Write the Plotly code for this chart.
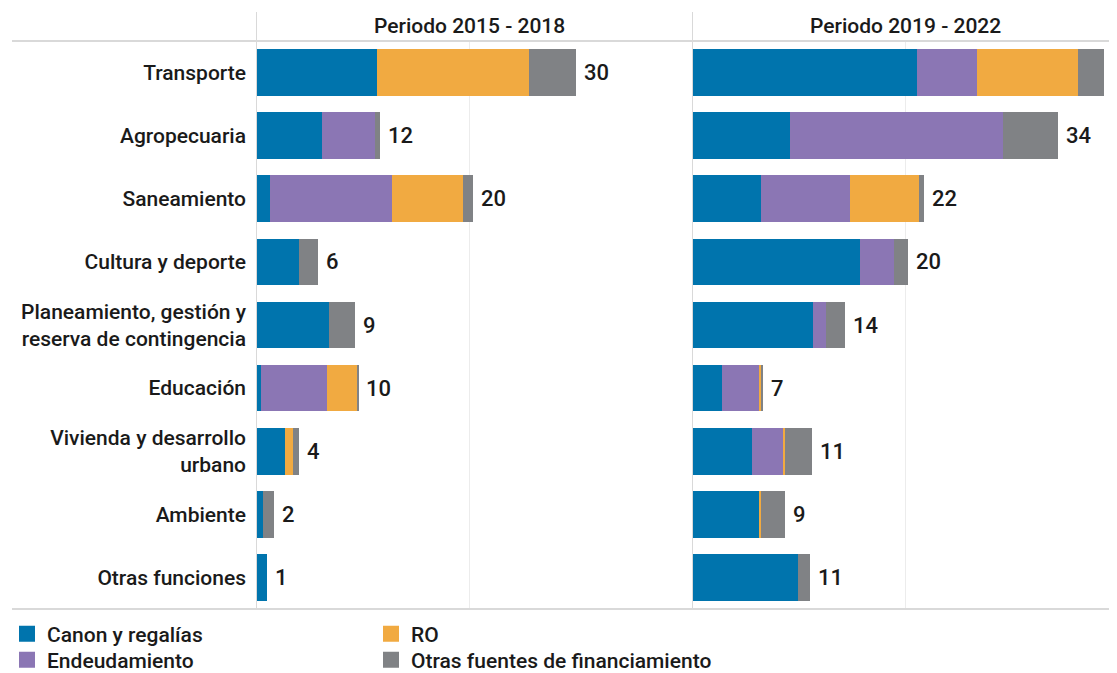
import plotly.graph_objects as go

categories = [
    "Transporte",
    "Agropecuaria",
    "Saneamiento",
    "Cultura y deporte",
    "Planeamiento, gestión y<br>reserva de contingencia",
    "Educación",
    "Vivienda y desarrollo<br>urbano",
    "Ambiente",
    "Otras funciones",
]

series_names = ["Canon y regalías", "Endeudamiento", "RO", "Otras fuentes de financiamiento"]
colors = ["#0074AD", "#8B76B4", "#F1AA41", "#808285"]

# Periodo 2015 - 2018
canon_1518 = [11.4, 6.2, 1.3, 4.0, 6.9, 0.5, 2.7, 0.7, 1.0]
endeud_1518 = [0, 5.0, 11.5, 0, 0, 6.2, 0, 0, 0]
ro_1518 = [14.2, 0, 6.6, 0, 0, 2.8, 0.8, 0, 0]
otras_1518 = [4.4, 0.4, 1.0, 1.8, 2.4, 0.1, 0.5, 1.0, 0]
totals_1518 = [30, 12, 20, 6, 9, 10, 4, 2, 1]

# Periodo 2019 - 2022
canon_1922 = [21.1, 9.2, 6.5, 15.7, 11.3, 2.8, 5.6, 6.3, 9.9]
endeud_1922 = [5.6, 19.9, 8.3, 3.2, 1.3, 3.5, 3.0, 0, 0]
ro_1922 = [9.5, 0, 6.5, 0, 0, 0.25, 0.15, 0.15, 0]
otras_1922 = [2.4, 5.2, 0.4, 1.3, 1.7, 0.1, 2.5, 2.3, 1.2]
totals_1922 = [39, 34, 22, 20, 14, 7, 11, 9, 11]

panel_titles = ["Periodo 2015 - 2018", "Periodo 2019 - 2022"]

FONT = "Roboto"
TXT = "#1a1a1a"
W, H = 1109, 665          # page body adds an 8px offset
T_PX, B_PX = 33, 64
plot_h = H - T_PX - B_PX
plot_bottom = H - B_PX

fig = go.Figure()

left = [canon_1518, endeud_1518, ro_1518, otras_1518]
right = [canon_1922, endeud_1922, ro_1922, otras_1922]

for i, name in enumerate(series_names):
    fig.add_trace(go.Bar(
        name=name, y=categories, x=left[i], orientation="h",
        marker=dict(color=colors[i], line=dict(width=0)),
        xaxis="x", yaxis="y", showlegend=False, hoverinfo="x+y+name",
    ))
for i, name in enumerate(series_names):
    fig.add_trace(go.Bar(
        name=name, y=categories, x=right[i], orientation="h",
        marker=dict(color=colors[i], line=dict(width=0)),
        xaxis="x2", yaxis="y", showlegend=False, hoverinfo="x+y+name",
    ))

# legend entries (larger square swatches), one small legend per slot
legend_slot = ["legend", "legend3", "legend2", "legend4"]
for i, name in enumerate(series_names):
    fig.add_trace(go.Scatter(
        name=name, x=[None], y=[None], mode="markers",
        marker=dict(symbol="square", size=16, color=colors[i]),
        xaxis="x", yaxis="y", showlegend=True, legend=legend_slot[i],
        hoverinfo="skip",
    ))

annotations = []
for vals, totals, xref in ((left, totals_1518, "x"), (right, totals_1922, "x2")):
    for j, cat in enumerate(categories):
        s = sum(v[j] for v in vals)
        annotations.append(dict(
            x=s, y=cat, xref=xref, yref="y", text=str(totals[j]),
            showarrow=False, xanchor="left", xshift=6,
            font=dict(family=FONT, size=22, color=TXT, weight=500),
        ))

title_y = 1 + (T_PX - 18) / plot_h
for t, xref in zip(panel_titles, ("x", "x2")):
    annotations.append(dict(
        x=20, y=title_y, xref=xref, yref="paper", text=t, showarrow=False,
        xanchor="center", yanchor="middle",
        font=dict(family=FONT, size=21, color=TXT, weight=500),
    ))

top_line = 1 + (T_PX - 4) / plot_h
line_col = "#d9d9d9"
shapes = [
    dict(type="line", xref="paper", yref="paper", x0=4 / W, x1=1, y0=1, y1=1,
         line=dict(color=line_col, width=2)),
    dict(type="line", xref="paper", yref="paper", x0=4 / W, x1=1, y0=0, y1=0,
         line=dict(color=line_col, width=2)),
    dict(type="line", xref="x", yref="paper", x0=0, x1=0, y0=0, y1=top_line,
         line=dict(color=line_col, width=2)),
    dict(type="line", xref="x2", yref="paper", x0=0, x1=0, y0=0, y1=top_line,
         line=dict(color=line_col, width=2)),
]

d1 = [248 / W, 674 / W]
d2 = [684 / W, 1.0]
r2 = (W - 684) / 10.67

row1 = (plot_bottom - 626) / plot_h
row2 = (plot_bottom - 652) / plot_h
col1 = -1 / W
col2 = 363 / W


def leg(x, y):
    return dict(x=x, y=y, xanchor="left", yanchor="middle", orientation="v",
                itemsizing="trace", font=dict(family=FONT, size=21, color=TXT, weight=500),
                bgcolor="rgba(0,0,0,0)", itemclick=False, itemdoubleclick=False)


fig.update_layout(
    width=W, height=H,
    margin=dict(l=0, r=0, t=T_PX, b=B_PX, pad=0, autoexpand=False),
    paper_bgcolor="white", plot_bgcolor="white",
    barmode="stack", bargap=0.26,
    font=dict(family=FONT, size=21, color=TXT),
    xaxis=dict(domain=d1, range=[0, 40], showticklabels=False, showgrid=True,
               gridcolor="#ececec", gridwidth=1, dtick=20, zeroline=False,
               showline=False, fixedrange=True),
    xaxis2=dict(domain=d2, range=[0, r2], showticklabels=False, showgrid=True,
                gridcolor="#ececec", gridwidth=1, dtick=20, zeroline=False,
                showline=False, fixedrange=True),
    yaxis=dict(type="category", categoryorder="array", categoryarray=categories,
               autorange="reversed", showgrid=False, zeroline=False, showline=False,
               ticks="", ticklabelstandoff=9,
               tickfont=dict(family=FONT, size=21, color=TXT, weight=500),
               fixedrange=True),
    legend=leg(col1, row1),
    legend2=leg(col2, row1),
    legend3=leg(col1, row2),
    legend4=leg(col2, row2),
    annotations=annotations,
    shapes=shapes,
    showlegend=True,
)

fig.write_html("out.html")
